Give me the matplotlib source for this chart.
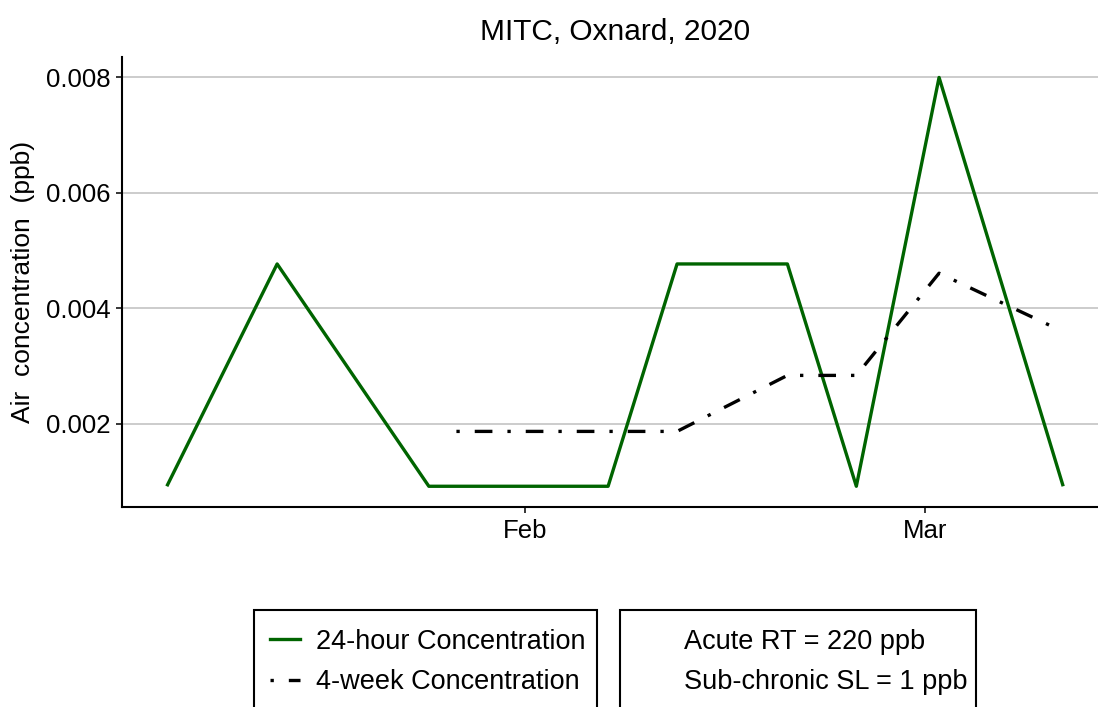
import numpy as np
import pandas as pd
import matplotlib
matplotlib.use("Agg")
import matplotlib.pyplot as plt
import matplotlib.dates as mdates
from matplotlib.lines import Line2D
from matplotlib.patches import Rectangle

plt.rcParams['font.family'] = ['Liberation Sans', 'DejaVu Sans']

# 24-hour samples
day_dates = pd.to_datetime(['2020-01-06', '2020-01-14', '2020-01-25', '2020-02-07', '2020-02-12',
                            '2020-02-20', '2020-02-25', '2020-03-02', '2020-03-11'])
day_values = [0.00092, 0.00477, 0.00092, 0.00092, 0.00477, 0.00477, 0.00092, 0.008, 0.00092]

# 4-week rolling
week_dates = pd.to_datetime(['2020-01-27', '2020-02-12', '2020-02-20', '2020-02-25',
                             '2020-03-02', '2020-03-10'])
week_values = [0.00187, 0.00187, 0.00284, 0.00284, 0.00461, 0.00371]

y_ticks = [0.002, 0.004, 0.006, 0.008]
limit_labels = ['Acute RT = 220 ppb', 'Sub-chronic SL = 1 ppb']

W, H = 1098, 707
fig = plt.figure(figsize=(W / 100, H / 100), dpi=100)
ax = fig.add_axes([122 / W, 1 - 507 / H, (1108 - 122) / W, (507 - 57) / H])

green = '#006400'
dashdot = (0, (1, 4.5, 5.3, 4.5))
ax.plot(day_dates, day_values, color=green, lw=2.4, solid_capstyle='butt')
ax.plot(week_dates, week_values, color='black', lw=2.4, linestyle=dashdot)

ax.set_xlim(day_dates[0] - pd.Timedelta(days=3.25), day_dates[-1] + pd.Timedelta(days=3.25))
ax.set_ylim(0.000561, 0.008354)
ax.set_yticks(y_ticks)
ax.set_yticklabels([f'{v:.3f}' for v in y_ticks])
ax.xaxis.set_major_locator(mdates.MonthLocator())
ax.xaxis.set_major_formatter(mdates.DateFormatter('%b'))

ax.grid(axis='y', color='#bebebe', lw=1.1)
ax.set_axisbelow(True)
for s in ['top', 'right']:
    ax.spines[s].set_visible(False)
for s in ['left', 'bottom']:
    ax.spines[s].set_linewidth(1.5)
    ax.spines[s].set_color('black')
ax.tick_params(labelsize=18.5, length=4.3, width=1.1, pad=4, colors='black')

ax.set_title('MITC, Oxnard, 2020', fontsize=21.5, pad=12)
ax.set_ylabel('Air  concentration  (ppb)', fontsize=19, labelpad=8)

# legend boxes (cut off at the bottom edge like the original)
for x0, x1 in [(254, 597), (620, 976)]:
    fig.patches.append(Rectangle((x0 / W, -20 / H), (x1 - x0) / W, (H + 20 - 610) / H,
                                 transform=fig.transFigure, fill=False,
                                 edgecolor='black', lw=1.5))

handles = [Line2D([], [], color=green, lw=2.4),
           Line2D([], [], color='black', lw=2.4, linestyle=dashdot)]
leg_kw = dict(loc='center left', borderaxespad=0, borderpad=0, fontsize=19.5, frameon=False,
              handlelength=1.11, handletextpad=0.59, labelspacing=0.52)
fig.legend(handles, ['24-hour Concentration', '4-week Concentration'],
           bbox_to_anchor=(270 / W, 1 - 662 / H), **leg_kw)

blank = [Line2D([], [], color='none') for _ in limit_labels]
fig.legend(blank, limit_labels, bbox_to_anchor=(638 / W, 1 - 662 / H), **leg_kw)

fig.savefig('out.png', dpi=100)
